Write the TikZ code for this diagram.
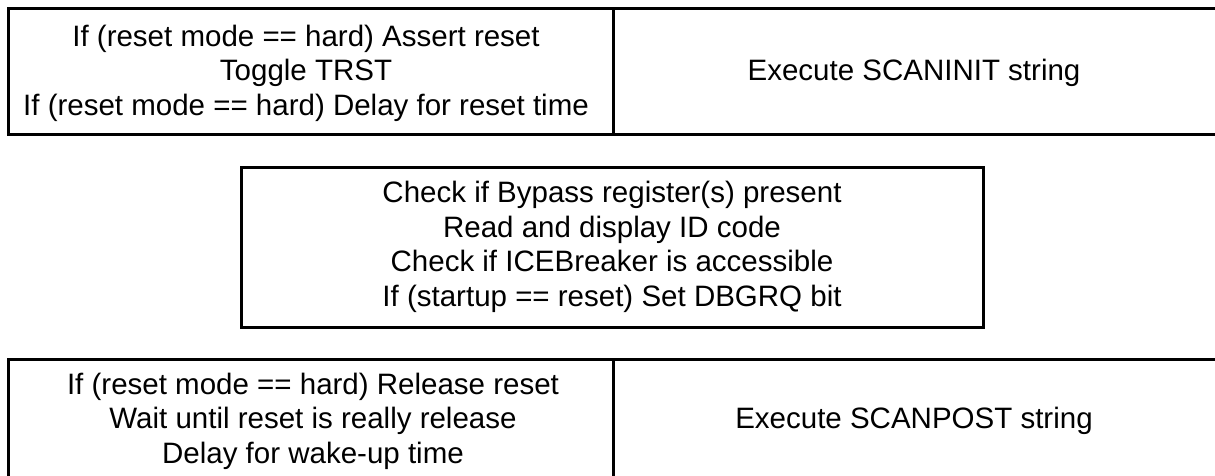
\documentclass[tikz,border=0pt]{standalone}
\usepackage{fontspec}
\setmainfont{Liberation Sans}
\begin{document}
\begin{tikzpicture}[x=1pt,y=-1pt,
  box/.style={draw=black,line width=3pt},
  txt/.style={align=center,inner sep=0pt,font=\fontsize{29.5}{34.5}\selectfont}]
\useasboundingbox (0,0) rectangle (1215,475);
\fill[white] (0,0) rectangle (1215,475);
\begin{scope}
\clip (0,0) rectangle (1215,475);
% top box
\draw[box] (1230,8) -- (8,8) -- (8,134) -- (1230,134);
\draw[box] (613,8) -- (613,134);
% middle box
\draw[box] (241,167) rectangle (983,327);
% bottom box
\draw[box] (1230,359) -- (8,359) -- (8,490);
\draw[box] (613,359) -- (613,490);
\end{scope}
\node[txt] (t1) at (306,73) {If (reset mode == hard) Assert reset\\Toggle TRST\\If (reset mode == hard) Delay for reset time};
\node[txt] (t2) at (914,72.5) {Execute SCANINIT string};
\node[txt] (m) at (612,247) {Check if Bypass register(s) present\\Read and display ID code\\Check if ICEBreaker is accessible\\If (startup == reset) Set DBGRQ bit};
\node[txt] (b1) at (313,421) {If (reset mode == hard) Release reset\\Wait until reset is really release\\Delay for wake-up time};
\node[txt] (b2) at (914,421) {Execute SCANPOST string};
\end{tikzpicture}
\end{document}
